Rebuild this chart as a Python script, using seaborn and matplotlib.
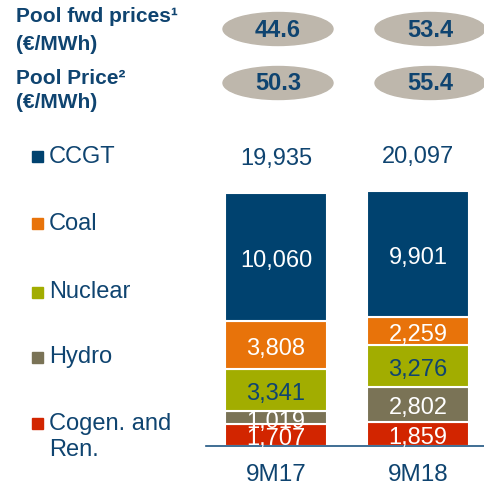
import pandas as pd
import matplotlib.pyplot as plt
import seaborn as sns
from matplotlib.patches import Ellipse, Rectangle

# Данные
periods = ["9M17", "9M18"]
sources = ["CCGT", "Coal", "Nuclear", "Hydro", "Cogen. and\nRen."]
cogen = [1707, 1859]
hydro = [1019, 2802]
nuclear = [3341, 3276]
coal = [3808, 2259]
ccgt = [10060, 9901]
totals = ["19,935", "20,097"]
fwd_prices = [44.6, 53.4]
pool_prices = [50.3, 55.4]

values = [cogen, hydro, nuclear, coal, ccgt]
colors = ["#D22500", "#7A7356", "#A2AD00", "#E8730A", "#00426F"]
label_colors = ["white", "white", "#0F4470", "white", "white"]
navy = "#0F4470"

sns.set_style("white")
plt.rcParams["font.family"] = ["Liberation Sans", "DejaVu Sans"]

fig = plt.figure(figsize=(4.85, 4.86), dpi=100)
ax = fig.add_axes([206 / 485, 40 / 486, 279 / 485, 306 / 486])

# Столбцы с накоплением
df = pd.DataFrame({"period": periods})
bottom = [0, 0]
for vals, col, lcol in zip(values, colors, label_colors):
    df["value"] = vals
    sns.barplot(data=df, x="period", y="value", bottom=bottom, color=col,
                width=0.725, edgecolor="white", linewidth=1.5,
                errorbar=None, saturation=1, ax=ax)
    for i, v in enumerate(vals):
        ax.text(i, bottom[i] + v / 2 - 300, f"{v:,}", ha="center", va="center",
                fontsize=17, color=lcol)
    bottom = [b + v for b, v in zip(bottom, vals)]

for i, t in enumerate(totals):
    ax.text(i, bottom[i] + 2700, t, ha="center", va="center", fontsize=17, color=navy)

ax.set_xlim(-0.493, 1.472)
ax.set_ylim(0, 24110)
ax.set_xlabel("")
ax.set_ylabel("")
ax.set_yticks([])
for s in ["top", "right", "left"]:
    ax.spines[s].set_visible(False)
ax.spines["bottom"].set_color("#1F5582")
ax.spines["bottom"].set_linewidth(1.2)
ax.tick_params(axis="x", length=0, pad=13, labelsize=17.5, labelcolor=navy)

# Легенда
legend_y = [157, 224, 292, 357, 437]
for name, col, y in zip(sources, colors[::-1], legend_y):
    sq_y = 423 if name.startswith("Cogen") else y
    fig.add_artist(Rectangle((32 / 485, 1 - (sq_y + 5.5) / 486), 11 / 485, 11 / 486,
                             transform=fig.transFigure, color=col))
    fig.text(49 / 485, 1 - y / 486, name, ha="left", va="center",
             fontsize=17, color=navy)

# Цены
fig.text(16 / 485, 1 - 17 / 486, "Pool fwd prices¹", fontsize=15, fontweight="bold",
         color=navy, va="center")
fig.text(16 / 485, 1 - 45 / 486, "(€/MWh)", fontsize=15, fontweight="bold",
         color=navy, va="center")
fig.text(16 / 485, 1 - 79 / 486, "Pool Price²", fontsize=15, fontweight="bold",
         color=navy, va="center")
fig.text(16 / 485, 1 - 103 / 486, "(€/MWh)", fontsize=15, fontweight="bold",
         color=navy, va="center")

ell_x = [278, 430]
for row_y, prices in zip([29, 83], [fwd_prices, pool_prices]):
    for cx, p in zip(ell_x, prices):
        fig.add_artist(Ellipse((cx / 485, 1 - row_y / 486), 110 / 485, 33 / 486,
                               transform=fig.transFigure, color="#BEB7AC"))
        fig.text(cx / 485, 1 - (row_y + 1) / 486, f"{p:.1f}", ha="center", va="center",
                 fontsize=17, fontweight="bold", color=navy)

plt.savefig("out.png", dpi=100)
